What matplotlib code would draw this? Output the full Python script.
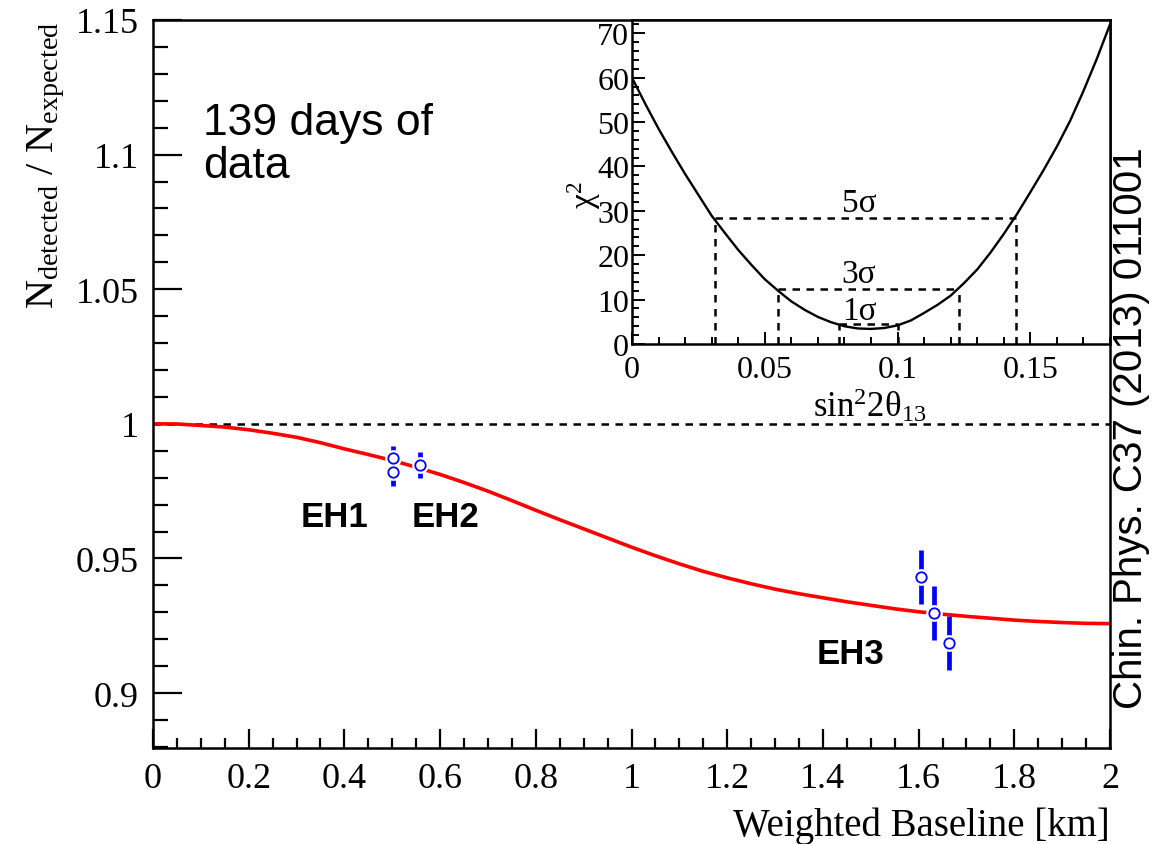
import matplotlib
matplotlib.use("Agg")
import matplotlib.pyplot as plt
from matplotlib.ticker import MultipleLocator, FuncFormatter

plt.rcParams['mathtext.fontset'] = 'custom'
plt.rcParams['mathtext.rm'] = 'Liberation Serif'
plt.rcParams['mathtext.it'] = 'Liberation Serif'
plt.rcParams['mathtext.bf'] = 'Liberation Serif:bold'
plt.rcParams['font.family'] = ['Liberation Serif', 'DejaVu Serif']

# ---------------- data ----------------
# expected survival curve
curve_L = [0.0, 0.05, 0.1, 0.15, 0.2, 0.25, 0.3, 0.35, 0.4, 0.45, 0.5, 0.55, 0.6, 0.65, 0.7,
           0.75, 0.8, 0.85, 0.9, 0.95, 1.0, 1.05, 1.1, 1.15, 1.2, 1.25, 1.3, 1.35, 1.4,
           1.45, 1.5, 1.55, 1.6, 1.65, 1.7, 1.75, 1.8, 1.85, 1.9, 1.95, 2.0]
curve_R = [1.0, 0.99995, 0.9994, 0.9988, 0.9978, 0.9965, 0.9950, 0.9930, 0.9907, 0.9886,
           0.9864, 0.9839, 0.9812, 0.9782, 0.9750, 0.9715, 0.9679, 0.9644, 0.9610, 0.9576,
           0.9542, 0.9510, 0.9480, 0.9452, 0.9428, 0.9406, 0.9386, 0.9369, 0.9354, 0.9339,
           0.9326, 0.9313, 0.9302, 0.9293, 0.9285, 0.9278, 0.9271, 0.9266, 0.9262, 0.9259,
           0.9258]

# measured ratios per detector
det_L = [0.502, 0.502, 0.558, 1.604, 1.632, 1.664]
det_R = [0.9873, 0.9820, 0.9846, 0.9432, 0.9299, 0.9185]
det_err = [0.0045, 0.0050, 0.0048, 0.0100, 0.0100, 0.0100]

hall_labels = ['EH1', 'EH2', 'EH3']
hall_x = [0.380, 0.612, 1.457]
hall_y = [0.9655, 0.9655, 0.9146]

# chi2 scan (inset)
s2t = [0.0, 0.005, 0.01, 0.015, 0.02, 0.025, 0.03, 0.035, 0.04, 0.045, 0.05, 0.055,
       0.06, 0.065, 0.07, 0.075, 0.08, 0.085, 0.09, 0.095, 0.10, 0.105, 0.11, 0.115,
       0.12, 0.125, 0.13, 0.135, 0.14, 0.145, 0.15, 0.155, 0.16, 0.165, 0.17, 0.175, 0.18]
chi2 = [60.0, 54.1, 48.5, 43.3, 38.3, 33.6, 28.9, 25.0, 21.2, 17.8, 14.6, 12.0,
        9.6, 7.7, 6.1, 4.9, 4.0, 3.5, 3.4, 3.6, 4.2, 5.3, 7.0, 8.8,
        10.9, 13.7, 16.8, 20.6, 24.8, 29.3, 34.2, 39.2, 44.5, 50.3, 57.0, 64.2, 72.0]

sigma_labels = ['1σ', '3σ', '5σ']
sigma_level = [4.4, 12.4, 28.4]
sigma_lo = [0.078, 0.0549, 0.0311]
sigma_hi = [0.1001, 0.1230, 0.1446]
sigma_text_y = [7.6, 15.9, 31.8]

main_xticks = [0, 0.2, 0.4, 0.6, 0.8, 1.0, 1.2, 1.4, 1.6, 1.8, 2.0]
main_yticks = [0.9, 0.95, 1.0, 1.05, 1.1, 1.15]
inset_xticks = [0, 0.05, 0.1, 0.15]
inset_yticks = [0, 10, 20, 30, 40, 50, 60, 70]

# ---------------- figure ----------------
W, H = 1152, 845
fig = plt.figure(figsize=(W / 100, H / 100), dpi=100)

def fx(px):
    return px / W

def fy(py):
    return 1 - py / H

fmt = FuncFormatter(lambda v, p: ('%g' % round(v, 4)))
DASH = (0, (3.0, 2.6))

ax = fig.add_axes([fx(153), fy(749), fx(1110) - fx(153), fy(21) - fy(749)])
ax.set_xlim(0, 2)
ax.set_ylim(0.8796, 1.15)

ax.axhline(1.0, color='black', lw=1.8, ls=DASH, zorder=1)
ax.plot(curve_L, curve_R, color='red', lw=2.6, zorder=2)

# gap behind marker, then error bar, then hollow marker
ax.errorbar(det_L, det_R, yerr=det_err, fmt='none', ecolor='blue', elinewidth=3.4, capsize=0, zorder=3)
ax.plot(det_L, det_R, 'o', ms=11, mfc='white', mec='white', zorder=4)
ax.plot(det_L, det_R, 'o', ms=7.5, mfc='white', mec='blue', mew=1.3, zorder=5)

for lab, x, y in zip(hall_labels, hall_x, hall_y):
    ax.text(x, y, lab, fontsize=25, fontweight='bold', family='Liberation Sans',
            ha='center', va='center', zorder=6)

ax.set_xticks(main_xticks)
ax.set_yticks(main_yticks)
ax.xaxis.set_minor_locator(MultipleLocator(0.05))
ax.yaxis.set_minor_locator(MultipleLocator(0.01))
ax.xaxis.set_major_formatter(fmt)
ax.yaxis.set_major_formatter(fmt)
ax.tick_params(axis='both', which='both', direction='in', top=False, right=False,
               labelsize=26, width=1.6, colors='black')
ax.tick_params(axis='x', which='major', length=14, pad=10)
ax.tick_params(axis='x', which='minor', length=7)
ax.tick_params(axis='y', which='major', length=21, pad=10)
ax.tick_params(axis='y', which='minor', length=11)
for sp in ax.spines.values():
    sp.set_linewidth(1.8)

fig.text(fx(1110), fy(826), 'Weighted Baseline [km]', fontsize=28, ha='right', va='center')
fig.text(fx(46), fy(22), r'$\mathrm{N_{detected}\ /\ N_{expected}}$', fontsize=29,
         rotation=90, ha='center', va='top')

fig.text(fx(203), fy(103), '139 days of\ndata', fontsize=32, family='Liberation Sans',
         ha='left', va='top', linespacing=1.05)

fig.text(fx(1131), fy(428), 'Chin. Phys. C37 (2013) 011001', fontsize=29,
         family='Liberation Sans', rotation=90, ha='center', va='center')

# ---------------- inset ----------------
ai = fig.add_axes([fx(632), fy(345), fx(1110) - fx(632), fy(21) - fy(345)])
ai.set_xlim(0, 0.18)
ai.set_ylim(0, 73)
ai.plot(s2t, chi2, color='black', lw=1.7, zorder=3)

for lab, lev, lo, hi, ty in zip(sigma_labels, sigma_level, sigma_lo, sigma_hi, sigma_text_y):
    ai.plot([lo, hi], [lev, lev], color='black', lw=1.8, ls=DASH, zorder=2)
    ai.plot([lo, lo], [0, lev], color='black', lw=1.8, ls=DASH, zorder=2)
    ai.plot([hi, hi], [0, lev], color='black', lw=1.8, ls=DASH, zorder=2)
    ai.text(0.0855, ty, lab, fontsize=24, ha='center', va='center', zorder=4)

ai.set_xticks(inset_xticks)
ai.set_yticks(inset_yticks)
ai.xaxis.set_minor_locator(MultipleLocator(0.01))
ai.yaxis.set_minor_locator(MultipleLocator(2))
ai.xaxis.set_major_formatter(fmt)
ai.yaxis.set_major_formatter(fmt)
ai.tick_params(axis='both', which='both', direction='in', top=False, right=False,
               labelsize=23, width=1.4)
ai.tick_params(axis='both', which='major', length=9)
ai.tick_params(axis='both', which='minor', length=5)
ai.tick_params(axis='x', which='major', pad=8)
ai.tick_params(axis='y', which='major', pad=2)
for sp in ai.spines.values():
    sp.set_linewidth(1.8)

fig.text(fx(870), fy(406), r'$\mathrm{sin^{2}2\theta_{13}}$', fontsize=25, ha='center', va='center')
fig.text(fx(584), fy(195), r'$\mathrm{\chi^{2}}$', fontsize=24, rotation=90, ha='center', va='center')

fig.savefig('out.png', dpi=100)
